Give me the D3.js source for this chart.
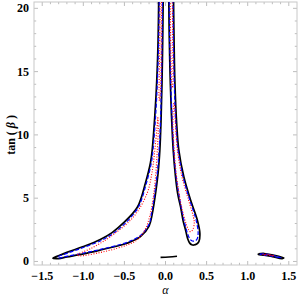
<!DOCTYPE html>
<html>
<head>
<meta charset="utf-8">
<script src="https://cdn.jsdelivr.net/npm/d3@7"></script>
<style>
  body { margin: 0; background: #fff; }
  svg text { font-family: "Liberation Serif", "DejaVu Serif", serif; }
</style>
</head>
<body>
<div id="chart"></div>
<script>
// ---- data: contour lines, [alpha, tanBeta] ----
const xTickValues = [-1.5, -1.0, -0.5, 0.0, 0.5, 1.0, 1.5];
const yTickValues = [0, 5, 10, 15, 20];

// black solid (outermost)
const blackLeft = [[-0.082,21],[-0.09,17.5],[-0.105,14.5],[-0.13,11.5],[-0.162,8.8],[-0.183,7.8],[-0.244,6.2],[-0.341,4.3],
  [-0.512,3.04],[-0.65,2.28],[-0.793,1.74],[-1.0,1.18],[-1.2,0.72],[-1.32,0.4],[-1.37,0.26],[-1.3,0.23],[-1.199,0.36],[-1.0,0.6],
  [-0.793,0.9],[-0.6,1.2],[-0.467,1.44],[-0.305,1.96],[-0.2,2.8],[-0.16,3.8],[-0.125,5.2],[-0.09,7],[-0.069,8.8],
  [-0.055,11],[-0.043,14],[-0.033,18],[-0.028,21]];
const blackRight = [[0.04,21],[0.045,18],[0.055,15],[0.07,12],[0.094,8.8],[0.122,6.69],[0.15,5.3],[0.183,4.33],[0.215,3.2],
  [0.244,2.49],[0.27,1.8],[0.295,1.45],[0.32,1.32],[0.345,1.30],[0.38,1.38],[0.406,1.56],[0.418,2.23],[0.387,3.28],
  [0.305,4.85],[0.223,6.69],[0.162,8.8],[0.135,11],[0.115,14],[0.105,17],[0.097,21]];
const blackMid = [[-0.06,0.33],[0.04,0.35],[0.14,0.41]];
const blackSide = [[1.13,0.60],[1.2,0.63],[1.3,0.52],[1.44,0.28],[1.42,0.22],[1.3,0.38],[1.2,0.5],[1.13,0.56],[1.13,0.60]];

// blue dashed (middle)
const blueLeft = [[-0.075,21],[-0.083,17.5],[-0.097,14.5],[-0.12,11.5],[-0.152,8.8],[-0.172,7.8],[-0.232,6.2],[-0.33,4.3],
  [-0.5,2.95],[-0.64,2.2],[-0.78,1.66],[-1.0,1.1],[-1.19,0.66],[-1.31,0.36],[-1.3,0.28],[-1.19,0.42],[-1.0,0.66],[-0.78,0.97],
  [-0.467,1.52],[-0.305,2.06],[-0.2,2.95],[-0.17,3.8],[-0.135,5.2],[-0.1,7],[-0.078,8.8],[-0.062,11],[-0.05,14],
  [-0.042,17.5],[-0.036,21]];
const blueRight = [[0.045,21],[0.05,18],[0.06,15],[0.076,12],[0.1,8.8],[0.13,6.69],[0.19,4.33],[0.25,2.6],[0.28,2.0],
  [0.31,1.68],[0.345,1.6],[0.38,1.72],[0.397,2.2],[0.372,3.28],[0.295,4.85],[0.213,6.69],[0.153,8.8],[0.125,11],
  [0.107,14],[0.097,17],[0.09,21]];
const blueSide = [[1.15,0.59],[1.22,0.59],[1.3,0.49],[1.41,0.28],[1.3,0.41],[1.2,0.52],[1.15,0.57],[1.15,0.59]];

// red dotted (innermost)
const redLeftTop = [[-0.064,21],[-0.07,17],[-0.078,14],[-0.08,13.1],[-0.074,12.7],[-0.066,13.1],[-0.058,14],[-0.052,17],[-0.048,21]];
const redLeftLow = [[-0.093,11.4],[-0.105,10.5],[-0.13,8.8],[-0.165,7],[-0.223,5.4],[-0.387,3.54],[-0.67,1.96],[-0.9,1.05],
  [-1.077,0.51],[-1.04,0.44],[-0.8,0.7],[-0.589,1.04],[-0.45,1.35],[-0.345,1.7],[-0.25,2.5],[-0.19,3.6],[-0.15,5],
  [-0.12,6.8],[-0.1,8.8],[-0.088,10.5],[-0.093,11.4]];
const redRightTop = [[0.058,21],[0.064,17],[0.074,14.2],[0.082,13.7],[0.09,14.2],[0.088,17],[0.082,21]];
const redRightLow = [[0.098,12.5],[0.09,11],[0.105,8.8],[0.135,6.69],[0.195,4.33],[0.25,3.0],[0.28,2.5],[0.305,2.35],
  [0.33,2.5],[0.35,3.0],[0.34,3.5],[0.28,4.85],[0.2,6.69],[0.145,8.8],[0.12,11],[0.11,12.3],[0.098,12.5]];
const redSide = [[1.18,0.57],[1.25,0.55],[1.32,0.45],[1.25,0.5],[1.18,0.55],[1.18,0.57]];

// ---- layout ----
const W = 299, H = 299;
const margin = {top: 2, right: 2, bottom: 34, left: 34};

const svg = d3.select("#chart").append("svg")
  .attr("width", W).attr("height", H);

const x = d3.scaleLinear().domain([-1.6, 1.6]).range([margin.left, W - margin.right]);
const y = d3.scaleLinear().domain([-0.28, 20.5]).range([H - margin.bottom, margin.top]);

svg.append("clipPath").attr("id", "plotClip")
  .append("rect")
  .attr("x", x(-1.6)).attr("y", y(20.5))
  .attr("width", x(1.6) - x(-1.6)).attr("height", y(-0.28) - y(20.5));

// frame ticks (inward, on all four sides)
const tickColor = "#a0a0a0";
const xMinor = d3.range(-1.5, 1.51, 0.1).map(d => +d.toFixed(2));
const yMinor = d3.range(0, 20.01, 1);

const ticks = svg.append("g").attr("stroke", tickColor).attr("stroke-width", 0.7);
xMinor.forEach(v => {
  const major = xTickValues.some(m => Math.abs(m - v) < 1e-6);
  const len = major ? 4 : 2.2;
  ticks.append("line").attr("x1", x(v)).attr("x2", x(v)).attr("y1", y.range()[0]).attr("y2", y.range()[0] - len);
  ticks.append("line").attr("x1", x(v)).attr("x2", x(v)).attr("y1", y.range()[1]).attr("y2", y.range()[1] + len);
});
yMinor.forEach(v => {
  const major = yTickValues.includes(v);
  const len = major ? 4 : 2.2;
  ticks.append("line").attr("y1", y(v)).attr("y2", y(v)).attr("x1", x.range()[0]).attr("x2", x.range()[0] + len);
  ticks.append("line").attr("y1", y(v)).attr("y2", y(v)).attr("x1", x.range()[1]).attr("x2", x.range()[1] - len);
});

// frame
svg.append("rect")
  .attr("x", x.range()[0]).attr("y", y.range()[1])
  .attr("width", x.range()[1] - x.range()[0]).attr("height", y.range()[0] - y.range()[1])
  .attr("fill", "none").attr("stroke", "#c8c8c8").attr("stroke-width", 1);

// tick labels
svg.append("g").selectAll("text").data(xTickValues).enter().append("text")
  .attr("x", d => x(d)).attr("y", 280)
  .attr("text-anchor", "middle")
  .style("font-size", "12px").style("font-weight", "bold")
  .text(d => d3.format(".1f")(d).replace("-", "\u2212"));

svg.append("g").selectAll("text").data(yTickValues).enter().append("text")
  .attr("x", 29).attr("y", d => y(d) + 4)
  .attr("text-anchor", "end")
  .style("font-size", "12px").style("font-weight", "bold")
  .text(d => d);

// axis labels
svg.append("text")
  .attr("x", x(0)).attr("y", 294)
  .attr("text-anchor", "middle")
  .style("font-size", "12px").style("font-style", "italic")
  .text("\u03b1");

const yl = svg.append("text")
  .attr("transform", `translate(15, ${y(10)}) rotate(-90)`)
  .attr("text-anchor", "middle")
  .style("font-size", "12px").style("font-weight", "bold");
yl.append("tspan").text("tan ( ");
yl.append("tspan").style("font-style", "italic").text("\u03b2");
yl.append("tspan").text(" )");

// contour lines
const line = d3.line().x(d => x(d[0])).y(d => y(d[1])).curve(d3.curveCatmullRom.alpha(0.5));
const plot = svg.append("g").attr("clip-path", "url(#plotClip)");

function draw(pts, color, width, dash) {
  plot.append("path")
    .datum(pts)
    .attr("d", line)
    .attr("fill", "none")
    .attr("stroke", color)
    .attr("stroke-width", width)
    .attr("stroke-dasharray", dash)
    .attr("stroke-linejoin", "round");
}

[blackLeft, blackRight, blackMid, blackSide].forEach(c => draw(c, "#000", 1.7, null));
[blueLeft, blueRight, blueSide].forEach(c => draw(c, "#0000ff", 1.2, "4,2"));
[redLeftTop, redLeftLow, redRightTop, redRightLow, redSide].forEach(c => draw(c, "#ff0000", 1.1, "1,1.6"));
</script>
</body>
</html>
